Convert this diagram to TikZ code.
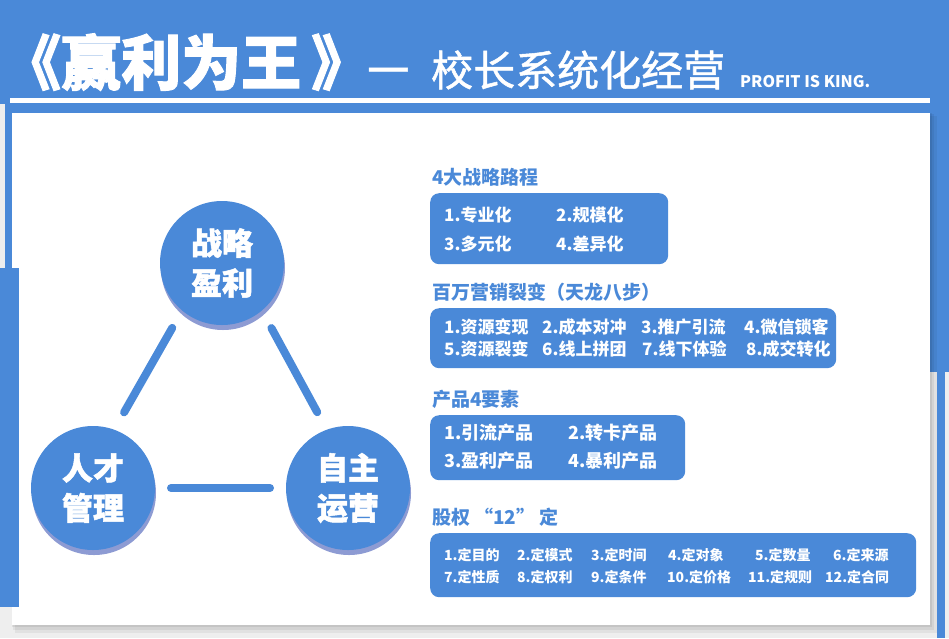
\documentclass[tikz,border=0pt]{standalone}
\usepackage{fontspec}
\setmainfont{Noto Sans CJK SC}
\newfontfamily\subtitlefont{Noto Sans CJK SC}[FakeBold=1.2]
\newfontfamily\headfont{Noto Sans CJK SC}[BoldFeatures={FakeBold=1.6}]
\usetikzlibrary{positioning}
\definecolor{schoolblue}{RGB}{74,137,216}
\definecolor{discrim}{RGB}{141,155,211}
\definecolor{pagegray}{RGB}{238,238,238}

\begin{document}
\begin{tikzpicture}[x=1pt,y=-1pt]
\tikzset{
  pillar/.style={circle,fill=schoolblue,minimum size=124pt,inner sep=0pt,outer sep=0pt,
    text=white,align=center,font=\headfont\bfseries\fontsize{31}{40}\selectfont,
    preaction={fill=discrim,transform canvas={xshift=1pt,yshift=-5pt}}},
  pillarlink/.style={draw=schoolblue,line width=8pt,line cap=round,shorten <=20pt,shorten >=20pt},
  listbox/.style={rectangle,rounded corners=9pt,fill=schoolblue,anchor=north west,inner sep=0pt},
  listhead/.style={anchor=west,inner sep=0pt,text=schoolblue,font=\bfseries\fontsize{19}{19}\selectfont},
  listitem/.style={anchor=west,inner sep=0pt,text=white,font=\bfseries\fontsize{17}{17}\selectfont},
  smallitem/.style={listitem,font=\bfseries\fontsize{14}{14}\selectfont}
}
\useasboundingbox (0,0) rectangle (949,638);
% page, header band and side bars
\fill[pagegray] (0,0) rectangle (949,638);
\fill[schoolblue] (0,0) rectangle (949,104);
\fill[schoolblue] (5,104) rectangle (949,113);
\fill[schoolblue] (930,113) rectangle (949,372);
\fill[schoolblue] (937,372) rectangle (945,638);
% card with soft shadow
\fill[black,opacity=0.05] (15,116) rectangle (937,633);
\fill[black,opacity=0.06] (13,114) rectangle (934,630);
\fill[black,opacity=0.07] (12,113) rectangle (932,627);
\fill[white] (12,113) rectangle (930,625);
\fill[schoolblue] (5,113) rectangle (12,268);
\fill[schoolblue] (0,268) rectangle (19,607);
\fill[white] (10,98) rectangle (930,103);

% title
\node[anchor=base west,inner sep=0pt,text=white,font=\headfont\bfseries\fontsize{60}{60}\selectfont] (title_main) at (1,85) {《赢利为王\hspace{10pt}》};
\node[anchor=base west,inner sep=0pt,text=white,font=\subtitlefont\fontsize{42}{42}\selectfont] (title_sub) at (367,86) {一\hspace{22pt}校长系统化经营};
\node[anchor=base west,inner sep=0pt,text=white,font=\bfseries\fontsize{16}{16}\selectfont] (title_en) at (740,87) {PROFIT IS KING.};

% three pillars
\node[pillar] (n_strategy) at (222,263) {战略\\盈利};
\node[pillar] (n_talent) at (93,488) {人才\\管理};
\node[pillar] (n_operate) at (348,488) {自主\\运营};
\draw[pillarlink] (n_strategy.230) -- (n_talent.70);
\draw[pillarlink] (n_strategy.310) -- (n_operate.110);
\draw[pillarlink,shorten <=16pt,shorten >=16pt] (n_talent.0) -- (n_operate.180);

% 4 routes
\node[listhead] (head_route) at (432,177) {4大战略路程};
\node[listbox,minimum width=238pt,minimum height=71pt] (box_route) at (430,193) {};
\node[listitem] (route_1) at (444,215) {1.专业化};
\node[listitem] (route_2) at (556,215) {2.规模化};
\node[listitem] (route_3) at (444,244) {3.多元化};
\node[listitem] (route_4) at (556,244) {4.差异化};

% eight steps
\node[listhead] (head_fission) at (432,292) {百万营销裂变（天龙八步）};
\node[listbox,minimum width=406pt,minimum height=60pt] (box_fission) at (430,308) {};
\node[listitem] (fission_1) at (444,327) {1.资源变现};
\node[listitem] (fission_2) at (542,327) {2.成本对冲};
\node[listitem] (fission_3) at (641,327) {3.推广引流};
\node[listitem] (fission_4) at (744,327) {4.微信锁客};
\node[listitem] (fission_5) at (444,349) {5.资源裂变};
\node[listitem] (fission_6) at (542,349) {6.线上拼团};
\node[listitem] (fission_7) at (642,349) {7.线下体验};
\node[listitem] (fission_8) at (746,349) {8.成交转化};

% product elements
\node[listhead] (head_product) at (432,399) {产品4要素};
\node[listbox,minimum width=255pt,minimum height=65pt] (box_product) at (430,415) {};
\node[listitem,font=\bfseries\fontsize{18}{18}\selectfont] (product_1) at (444,433) {1.引流产品};
\node[listitem,font=\bfseries\fontsize{18}{18}\selectfont] (product_2) at (568,433) {2.转卡产品};
\node[listitem,font=\bfseries\fontsize{18}{18}\selectfont] (product_3) at (444,461) {3.盈利产品};
\node[listitem,font=\bfseries\fontsize{18}{18}\selectfont] (product_4) at (568,461) {4.暴利产品};

% equity 12
\node[listhead] (head_equity) at (432,517) {股权\hspace{4pt}“12”\hspace{4pt}定};
\node[listbox,minimum width=486pt,minimum height=64pt] (box_equity) at (430,533) {};
\node[smallitem] (equity_1) at (444,555) {1.定目的};
\node[smallitem] (equity_2) at (517,555) {2.定模式};
\node[smallitem] (equity_3) at (591,555) {3.定时间};
\node[smallitem] (equity_4) at (668,555) {4.定对象};
\node[smallitem] (equity_5) at (755,555) {5.定数量};
\node[smallitem] (equity_6) at (833,555) {6.定来源};
\node[smallitem] (equity_7) at (444,577) {7.定性质};
\node[smallitem] (equity_8) at (517,577) {8.定权利};
\node[smallitem] (equity_9) at (591,577) {9.定条件};
\node[smallitem] (equity_10) at (667,577) {10.定价格};
\node[smallitem] (equity_11) at (748,577) {11.定规则};
\node[smallitem] (equity_12) at (825,577) {12.定合同};
\end{tikzpicture}
\end{document}
